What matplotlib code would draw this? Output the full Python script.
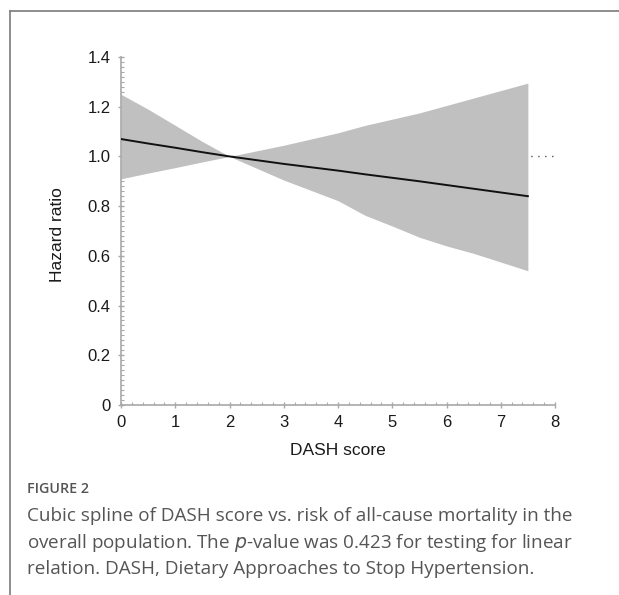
import numpy as np
import matplotlib
matplotlib.use('Agg')
import matplotlib.pyplot as plt
from matplotlib.lines import Line2D
from matplotlib.ticker import MultipleLocator

# spline estimate and 95% CI
dash_x = [0.0, 0.5, 1.0, 1.5, 2.0, 3.0, 4.0, 4.5, 5.0, 5.5, 6.0, 6.5, 7.0, 7.5]
hr     = [1.07, 1.052, 1.035, 1.017, 1.0, 0.97, 0.943, 0.928, 0.914, 0.9, 0.885, 0.87, 0.855, 0.84]
ci_up  = [1.25, 1.19, 1.125, 1.06, 1.0, 1.045, 1.095, 1.125, 1.15, 1.175, 1.205, 1.235, 1.265, 1.295]
ci_lo  = [0.91, 0.933, 0.955, 0.978, 1.0, 0.905, 0.822, 0.763, 0.72, 0.675, 0.64, 0.61, 0.575, 0.54]

xlabel = 'DASH score'
ylabel = 'Hazard ratio'
caption_head = 'FIGURE 2'
caption_lines = ['Cubic spline of DASH score vs. risk of all-cause mortality in the',
                 'overall population. The $\\it{p}$-value was 0.423 for testing for linear',
                 'relation. DASH, Dietary Approaches to Stop Hypertension.']

plt.rcParams['font.family'] = ['Liberation Sans', 'DejaVu Sans']

fig = plt.figure(figsize=(6.19, 5.95), dpi=100, facecolor='white')
W, H = 619, 595
ax = fig.add_axes([121 / W, 1 - 405 / H, (555 - 121) / W, (405 - 57) / H])

ax.axhline(1.0, color='#555555', lw=1, ls=(0, (1, 4)), zorder=1)
ax.fill_between(dash_x, ci_lo, ci_up, color='#c0c0c0', lw=0, zorder=2)
ax.plot(dash_x, hr, color='#111111', lw=1.4, zorder=3)

ax.set_xlim(0, 8)
ax.set_ylim(0, 1.4)
ax.set_xticks(range(0, 9))
ax.set_yticks([0, 0.2, 0.4, 0.6, 0.8, 1.0, 1.2, 1.4])
ax.set_yticklabels(['0', '0.2', '0.4', '0.6', '0.8', '1.0', '1.2', '1.4'])
ax.xaxis.set_minor_locator(MultipleLocator(0.2))
ax.yaxis.set_minor_locator(MultipleLocator(0.02))

for s in ['top', 'right']:
    ax.spines[s].set_visible(False)
for s in ['left', 'bottom']:
    ax.spines[s].set_color('#a8a8a8')
    ax.spines[s].set_linewidth(1.2)
ax.tick_params(which='major', direction='inout', length=5, width=1, color='#a8a8a8',
               labelsize=12, labelcolor='#1a1a1a', pad=5)
ax.tick_params(which='minor', direction='in', length=2.5, width=0.8, color='#a8a8a8')

ax.set_xlabel(xlabel, fontsize=12.5, color='#1a1a1a')
ax.set_ylabel(ylabel, fontsize=12.5, color='#1a1a1a')
ax.xaxis.set_label_coords(0.5, -0.108)
ax.yaxis.set_label_coords(-0.13, 0.49)

# page frame
fig.add_artist(Line2D([10 / W, 10 / W], [0, 1 - 11 / H], color='#7a7a7a', lw=1.2))
fig.add_artist(Line2D([10 / W, 1], [1 - 11 / H, 1 - 11 / H], color='#7a7a7a', lw=1.2))

# caption
fig.text(27 / W, 1 - 489 / H, caption_head, fontsize=10.3, color='#555555',
         family=['Open Sans', 'DejaVu Sans'], va='center', weight='semibold')
for i, line in enumerate(caption_lines):
    fig.text(27 / W, 1 - (516 + 26.5 * i) / H, line, fontsize=13.6, color='#555555',
             family=['Open Sans', 'DejaVu Sans'], va='center')

fig.savefig('out.png', dpi=100, facecolor='white')
